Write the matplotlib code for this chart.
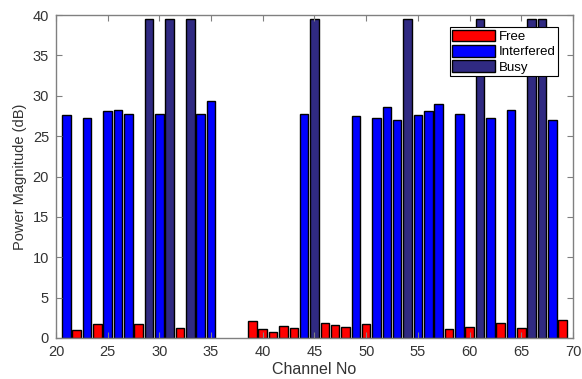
import matplotlib
matplotlib.use("Agg")
import matplotlib.pyplot as plt

plt.rcParams["font.family"] = ["Liberation Sans", "DejaVu Sans"]

free_ch = [22, 24, 28, 32, 39, 40, 41, 42, 43, 46, 47, 48, 50, 58, 60, 63, 65, 69]
free_val = [1.0, 1.7, 1.7, 1.2, 2.15, 1.07, 0.7, 1.53, 1.28, 1.9, 1.57, 1.4, 1.7, 1.07, 1.4, 1.9, 1.28, 2.25]

interfered_ch = [21, 23, 25, 26, 27, 30, 34, 35, 44, 49, 51, 52, 53, 55, 56, 57, 59, 62, 64, 68]
interfered_val = [27.6, 27.3, 28.1, 28.2, 27.7, 27.8, 27.7, 29.4, 27.7, 27.5, 27.3, 28.65, 27.0, 27.6, 28.1, 29.0, 27.7, 27.2, 28.2, 27.0]

busy_ch = [29, 31, 33, 45, 54, 61, 66, 67]
busy_val = [39.5, 39.5, 39.5, 39.5, 39.5, 39.5, 39.5, 39.5]

x_ticks = [20, 25, 30, 35, 40, 45, 50, 55, 60, 65, 70]
y_ticks = [0, 5, 10, 15, 20, 25, 30, 35, 40]

fig = plt.figure(figsize=(5.82, 3.79), dpi=100)
ax = fig.add_axes([0.0962, 0.1082, 0.8883, 0.8522])

w = 0.83
ax.bar(free_ch, free_val, width=w, color="#ff0000", edgecolor="black", linewidth=1.0, label="Free")
ax.bar(interfered_ch, interfered_val, width=w, color="#0000ff", edgecolor="black", linewidth=1.0, label="Interfered")
ax.bar(busy_ch, busy_val, width=w, color="#302a82", edgecolor="black", linewidth=1.0, label="Busy")

ax.set_xlim(20, 70)
ax.set_ylim(0, 40)
ax.set_xticks(x_ticks)
ax.set_yticks(y_ticks)
ax.tick_params(direction="in", top=True, right=True, length=4, width=0.8,
               colors="#808080", labelcolor="#333333", labelsize=10.5)
ax.tick_params(axis="x", pad=5)
ax.tick_params(axis="y", pad=5)
for s in ax.spines.values():
    s.set_color("#808080")
    s.set_linewidth(1.0)

ax.set_xlabel("Channel No", fontsize=11.5, color="#333333", labelpad=2)
ax.set_ylabel("Power Magnitude (dB)", fontsize=10.5, color="#333333", labelpad=4)

leg = ax.legend(loc="upper right", bbox_to_anchor=(0.971, 0.963), fontsize=9.5,
                frameon=True, fancybox=False, edgecolor="black", framealpha=1,
                handlelength=3.2, handleheight=1.0, handletextpad=0.3,
                borderpad=0.2, labelspacing=0.15, borderaxespad=0)
leg.get_frame().set_linewidth(0.8)

fig.savefig("out.png", dpi=100)
